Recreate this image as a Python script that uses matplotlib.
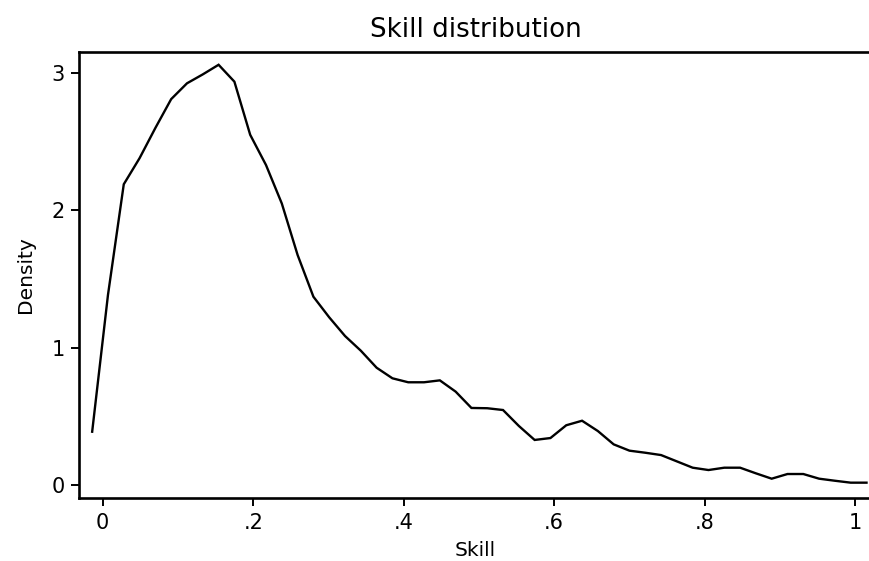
import numpy as np
import matplotlib
matplotlib.use("Agg")
import matplotlib.pyplot as plt

# Data (kernel density, 50 evaluation points)
skill_min = -0.014
skill_max = 1.015
density = [0.388, 1.384, 2.19, 2.38, 2.60, 2.81, 2.925, 2.99, 3.06, 2.937,
           2.55, 2.33, 2.05, 1.675, 1.371, 1.221, 1.085, 0.978, 0.854, 0.777,
           0.748, 0.748, 0.762, 0.68, 0.561, 0.559, 0.546, 0.43, 0.328, 0.342,
           0.435, 0.468, 0.393, 0.296, 0.25, 0.235, 0.218, 0.172, 0.126, 0.109,
           0.126, 0.126, 0.085, 0.046, 0.08, 0.08, 0.046, 0.031, 0.017, 0.017]
skill = np.linspace(skill_min, skill_max, len(density))

xticks = [0, 0.2, 0.4, 0.6, 0.8, 1.0]
xticklabels = ["0", ".2", ".4", ".6", ".8", "1"]
yticks = [0, 1, 2, 3]
yticklabels = ["0", "1", "2", "3"]

plt.rcParams['font.family'] = ['DejaVu Sans']

fig = plt.figure(figsize=(8.7, 5.61), dpi=100)
ax = fig.add_axes([79/870, (561-497.5)/561, (872-79)/870, (497.5-52)/561])

ax.plot(skill, density, color='black', lw=1.7, solid_joinstyle='miter')

ax.set_xlim(-0.0315, 1.0223)
ax.set_ylim(-0.091, 3.153)
ax.set_xticks(xticks)
ax.set_xticklabels(xticklabels)
ax.set_yticks(yticks)
ax.set_yticklabels(yticklabels)

for s in ax.spines.values():
    s.set_linewidth(1.9)
    s.set_color('black')
ax.spines['right'].set_visible(False)

ax.tick_params(axis='both', direction='out', length=6, width=1.4,
               labelsize=15, colors='black', pad=4)
ax.tick_params(axis='x', pad=5)

ax.set_xlabel("Skill", fontsize=14.5, labelpad=6)
ax.set_ylabel("Density", fontsize=14.5, labelpad=12)
ax.set_title("Skill distribution", fontsize=18.8, pad=11)

fig.savefig("out.png", dpi=100, facecolor='white')
